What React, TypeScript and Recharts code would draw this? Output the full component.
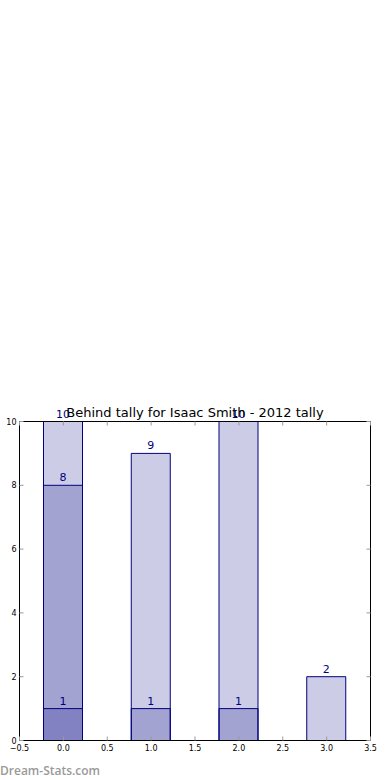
import React from "react";
import { ComposedChart, Bar, XAxis, YAxis, LabelList } from "recharts";

const categories = [0, 1, 2, 3];
const layer1 = [10, 9, 10, 2];
const layer2: (number | null)[] = [8, 1, 1, null];
const layer3: (number | null)[] = [1, null, null, null];
const xTicks = [-0.5, 0, 0.5, 1, 1.5, 2, 2.5, 3, 3.5];
const yTicks = [0, 2, 4, 6, 8, 10];
const title = "Behind tally for Isaac Smith - 2012 tally";
const watermark = "Dream-Stats.com";

const data = categories.map((c, i) => ({ x: c, a: layer1[i], b: layer2[i], c: layer3[i] }));

const NAVY = "#000080";
const FILL = "#000080";
const TICK = "#9a9a9a";
const FONT = "DejaVu Sans, sans-serif";

const fmtX = (v: number) => (v < 0 ? "\u2212" + Math.abs(v).toFixed(1) : v.toFixed(1));

const BottomTick = (props: any) => {
  const { x, y, payload } = props;
  return (
    <g>
      <line x1={x} x2={x} y1={y} y2={y - 4} stroke={TICK} strokeWidth={1} />
      <text x={x} y={y + 10} textAnchor="middle" fontSize={8} fontFamily={FONT} fill="#000">
        {fmtX(payload.value)}
      </text>
    </g>
  );
};

const TopTick = (props: any) => {
  const { x, y } = props;
  return <line x1={x} x2={x} y1={y} y2={y + 4} stroke={TICK} strokeWidth={1} />;
};

const LeftTick = (props: any) => {
  const { x, y, payload } = props;
  return (
    <g>
      <line x1={x} x2={x + 4} y1={y} y2={y} stroke={TICK} strokeWidth={1} />
      <text x={x - 3} y={y + 3} textAnchor="end" fontSize={8} fontFamily={FONT} fill="#000">
        {payload.value}
      </text>
    </g>
  );
};

const RightTick = (props: any) => {
  const { x, y } = props;
  return <line x1={x} x2={x - 4} y1={y} y2={y} stroke={TICK} strokeWidth={1} />;
};

const labelProps = { position: "top" as const, offset: 4, fill: NAVY, fontSize: 11, fontFamily: FONT };

export default function App() {
  return (
    <div style={{ position: "absolute", left: 0, top: 0, width: 390, height: 780, background: "#fff" }}>
      <ComposedChart
        width={390}
        height={780}
        data={data}
        margin={{ top: 420.5, right: 18.5, bottom: 38.5, left: 18.5 }}
        barSize={39}
      >
        <XAxis
          xAxisId="a"
          dataKey="x"
          type="number"
          domain={[-0.5, 3.5]}
          ticks={xTicks}
          allowDataOverflow
          height={1}
          tickSize={0}
          tickMargin={0}
          tickLine={false}
          axisLine={{ stroke: "#000", strokeWidth: 1 }}
          tick={<BottomTick />}
          interval={0}
        />
        <XAxis
          xAxisId="t"
          dataKey="x"
          type="number"
          orientation="top"
          domain={[-0.5, 3.5]}
          ticks={xTicks}
          allowDataOverflow
          height={1}
          tickSize={0}
          tickMargin={0}
          tickLine={false}
          axisLine={{ stroke: "#000", strokeWidth: 1 }}
          tick={<TopTick />}
          interval={0}
        />
        <XAxis
          xAxisId="c"
          dataKey="x"
          type="number"
          domain={[-0.5, 3.5]}
          allowDataOverflow
          hide
        />
        <YAxis
          yAxisId="l"
          type="number"
          domain={[0, 10]}
          ticks={yTicks}
          allowDataOverflow
          width={1}
          tickSize={0}
          tickMargin={0}
          tickLine={false}
          axisLine={{ stroke: "#000", strokeWidth: 1 }}
          tick={<LeftTick />}
          interval={0}
        />
        <YAxis
          yAxisId="r"
          orientation="right"
          type="number"
          domain={[0, 10]}
          ticks={yTicks}
          allowDataOverflow
          width={1}
          tickSize={0}
          tickMargin={0}
          tickLine={false}
          axisLine={{ stroke: "#000", strokeWidth: 1 }}
          tick={<RightTick />}
          interval={0}
        />
        <Bar xAxisId="a" yAxisId="l" dataKey="a" fill={FILL} fillOpacity={0.2} stroke={NAVY} strokeWidth={1} isAnimationActive={false}>
          <LabelList dataKey="a" {...labelProps} />
        </Bar>
        <Bar xAxisId="t" yAxisId="l" dataKey="b" fill={FILL} fillOpacity={0.2} stroke={NAVY} strokeWidth={1} isAnimationActive={false}>
          <LabelList dataKey="b" {...labelProps} />
        </Bar>
        <Bar xAxisId="c" yAxisId="l" dataKey="c" fill={FILL} fillOpacity={0.2} stroke={NAVY} strokeWidth={1} isAnimationActive={false}>
          <LabelList dataKey="c" {...labelProps} />
        </Bar>
      </ComposedChart>
      <svg width={390} height={780} style={{ position: "absolute", left: 0, top: 0, pointerEvents: "none" }}>
        <text x={195} y={417} textAnchor="middle" fontSize={13} fontFamily={FONT} fill="#000">
          {title}
        </text>
        <text x={0} y={775} fontSize={12} fontWeight={600} fontFamily="Open Sans, sans-serif" fill="#999">
          {watermark}
        </text>
      </svg>
    </div>
  );
}
